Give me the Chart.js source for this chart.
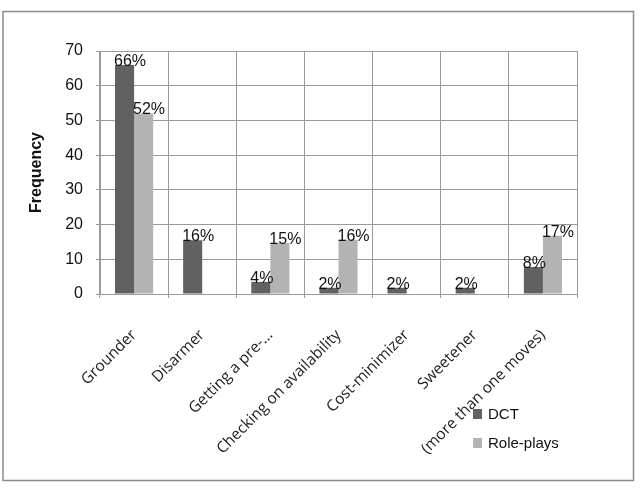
<!DOCTYPE html>
<html>
<head>
<meta charset="utf-8">
<script src="https://cdn.jsdelivr.net/npm/chart.js@4"></script>
<style>
  html, body { margin: 0; padding: 0; background: #fff; }
  #wrap { width: 640px; height: 490px; position: relative; }
</style>
</head>
<body>
<div id="wrap"><canvas id="movesChart"></canvas></div>
<script>
// chart data
const categories = ['Grounder', 'Disarmer', 'Getting a pre-...', 'Checking on availability',
                    'Cost-minimizer', 'Sweetener', '(more than one moves)'];
const dctValues = [66, 15.5, 3.5, 1.8, 1.8, 1.8, 7.8];
const roleValues = [52, null, 14.7, 15.6, null, null, 16.8];
const dctLabels = ['66%', '16%', '4%', '2%', '2%', '2%', '8%'];
const roleLabels = ['52%', '', '15%', '16%', '', '', '17%'];
const yTicks = [0, 10, 20, 30, 40, 50, 60, 70];

const DARK = '#616161';
const LIGHT = '#b3b3b3';
const GRID = '#9a9a9a';

// 1. FRAME + LEGEND + BAR LABELS
const decorPlugin = {
    id: 'decor',
    beforeDraw(chart) {
        const c = chart.ctx;
        c.save();
        c.fillStyle = '#fff';
        c.fillRect(0, 0, chart.width, chart.height);
        c.strokeStyle = '#8c8c8c';
        c.lineWidth = 1.5;
        c.strokeRect(3, 11.5, 630.5, 469);
        c.restore();
    },
    afterDatasetsDraw(chart) {
        const c = chart.ctx;
        const labelSets = [dctLabels, roleLabels];
        c.save();
        c.font = '16px "Liberation Sans", Arial, sans-serif';
        c.fillStyle = '#111';
        c.textAlign = 'left';
        c.textBaseline = 'alphabetic';
        chart.data.datasets.forEach((ds, i) => {
            const meta = chart.getDatasetMeta(i);
            meta.data.forEach((bar, j) => {
                const txt = labelSets[i][j];
                if (!txt || ds.data[j] == null) return;
                c.fillText(txt, bar.x - bar.width / 2 - 1, bar.y + 1);
            });
        });

        // legend, bottom right
        c.font = '15px "Liberation Sans", Arial, sans-serif';
        c.textBaseline = 'middle';
        chart.data.datasets.forEach((ds, i) => {
            const y = 414 + i * 29;
            c.fillStyle = ds.backgroundColor;
            c.fillRect(473, y - 5, 9, 10);
            c.fillStyle = '#111';
            c.fillText(ds.label, 488, y + 1);
        });
        c.restore();
    }
};

// 2. CHART
const ctx = document.getElementById('movesChart').getContext('2d');
new Chart(ctx, {
    type: 'bar',
    data: {
        labels: categories,
        datasets: [
            { label: 'DCT', data: dctValues, backgroundColor: DARK },
            { label: 'Role-plays', data: roleValues, backgroundColor: LIGHT }
        ]
    },
    options: {
        responsive: true,
        maintainAspectRatio: false,
        animation: false,
        events: [],
        categoryPercentage: 0.56,
        barPercentage: 1,
        layout: { padding: { left: 0, right: 63, top: 51, bottom: 0 } },
        plugins: {
            legend: { display: false },
            tooltip: { enabled: false }
        },
        scales: {
            x: {
                grid: { color: GRID, lineWidth: 1, tickLength: 4, offset: true },
                border: { color: GRID, width: 1 },
                ticks: {
                    autoSkip: false,
                    maxRotation: 45,
                    minRotation: 45,
                    padding: 28,
                    color: '#222',
                    font: { family: '"Open Sans", sans-serif', size: 15.5 }
                },
                afterFit(scale) { scale.height = 196; }
            },
            y: {
                min: 0,
                max: 70,
                afterBuildTicks(scale) { scale.ticks = yTicks.map(v => ({ value: v })); },
                grid: { color: GRID, lineWidth: 1, tickLength: 4 },
                border: { color: GRID, width: 1 },
                ticks: {
                    padding: 13,
                    color: '#111',
                    font: { family: '"Liberation Sans", Arial, sans-serif', size: 16 }
                },
                title: {
                    display: true,
                    text: 'Frequency',
                    color: '#111',
                    padding: { top: 27, bottom: 0 },
                    font: { family: '"Liberation Sans", Arial, sans-serif', size: 16, weight: 'bold' }
                },
                afterFit(scale) { scale.width = 100; }
            }
        }
    },
    plugins: [decorPlugin]
});
</script>
</body>
</html>
